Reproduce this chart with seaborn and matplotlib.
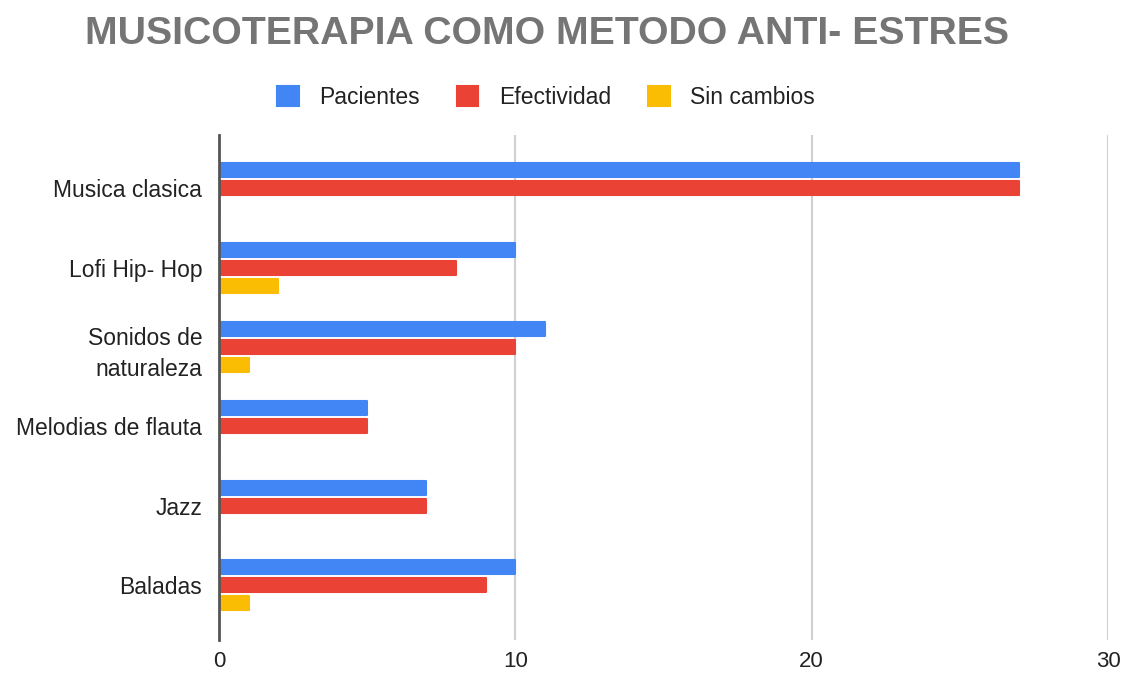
import pandas as pd
import seaborn as sns
import matplotlib.pyplot as plt

# Data
categorias = ["Musica clasica", "Lofi Hip- Hop", "Sonidos de\nnaturaleza",
              "Melodias de flauta", "Jazz", "Baladas"]
pacientes = [27, 10, 11, 5, 7, 10]
efectividad = [27, 8, 10, 5, 7, 9]
sin_cambios = [0, 2, 1, 0, 0, 1]
series = ["Pacientes", "Efectividad", "Sin cambios"]
colores = ["#4285F4", "#EA4335", "#FBBC04"]
x_ticks = [0, 10, 20, 30]

df = pd.DataFrame({
    "categoria": categorias * 3,
    "serie": [s for s in series for _ in categorias],
    "valor": pacientes + efectividad + sin_cambios,
})

sns.set_style("white")
plt.rcParams['font.family'] = ['Liberation Sans', 'DejaVu Sans']

fig = plt.figure(figsize=(11.31, 6.75), dpi=100)
ax = fig.add_axes([219 / 1131, 1 - 640 / 675, (1108 - 219) / 1131, (640 - 135) / 675])

sns.barplot(data=df, y="categoria", x="valor", hue="serie", orient="h",
            palette=colores, saturation=1, width=0.68, gap=0.22, ax=ax, legend=True)

# round-ish bar ends like the original
for p in ax.patches:
    p.set_edgecolor(p.get_facecolor())
    p.set_linewidth(1.5)
    p.set_joinstyle("round")

ax.set_xlim(0, 30)
ax.set_ylim(5.69, -0.67)
ax.set_xticks(x_ticks)
ax.xaxis.grid(True, color="#d0d0d0", linewidth=1.5)
ax.set_axisbelow(True)
for s in ["top", "right", "bottom"]:
    ax.spines[s].set_visible(False)
ax.spines["left"].set_color("#555555")
ax.spines["left"].set_linewidth(2)
ax.set_xlabel("")
ax.set_ylabel("")
ax.tick_params(axis="both", length=0, labelsize=16.5, labelcolor="#222222")
ax.tick_params(axis="y", pad=12)
ax.tick_params(axis="x", pad=8, labelsize=16)
for t in ax.get_yticklabels():
    t.set_linespacing(1.45)

handles, labels = ax.get_legend_handles_labels()
ax.legend_.remove()
fig.legend(handles, labels, loc="center", bbox_to_anchor=(546 / 1131, 1 - 97 / 675),
           ncol=3, frameon=False, fontsize=16.5, handlelength=0.95, handleheight=0.95,
           handletextpad=0.9, columnspacing=1.6, labelcolor="#222222")

fig.text(547 / 1131, 1 - 34 / 675, "MUSICOTERAPIA COMO METODO ANTI- ESTRES",
         ha="center", va="center", fontsize=28.3, fontweight="bold", color="#757575")

plt.savefig("out.png", dpi=100)
